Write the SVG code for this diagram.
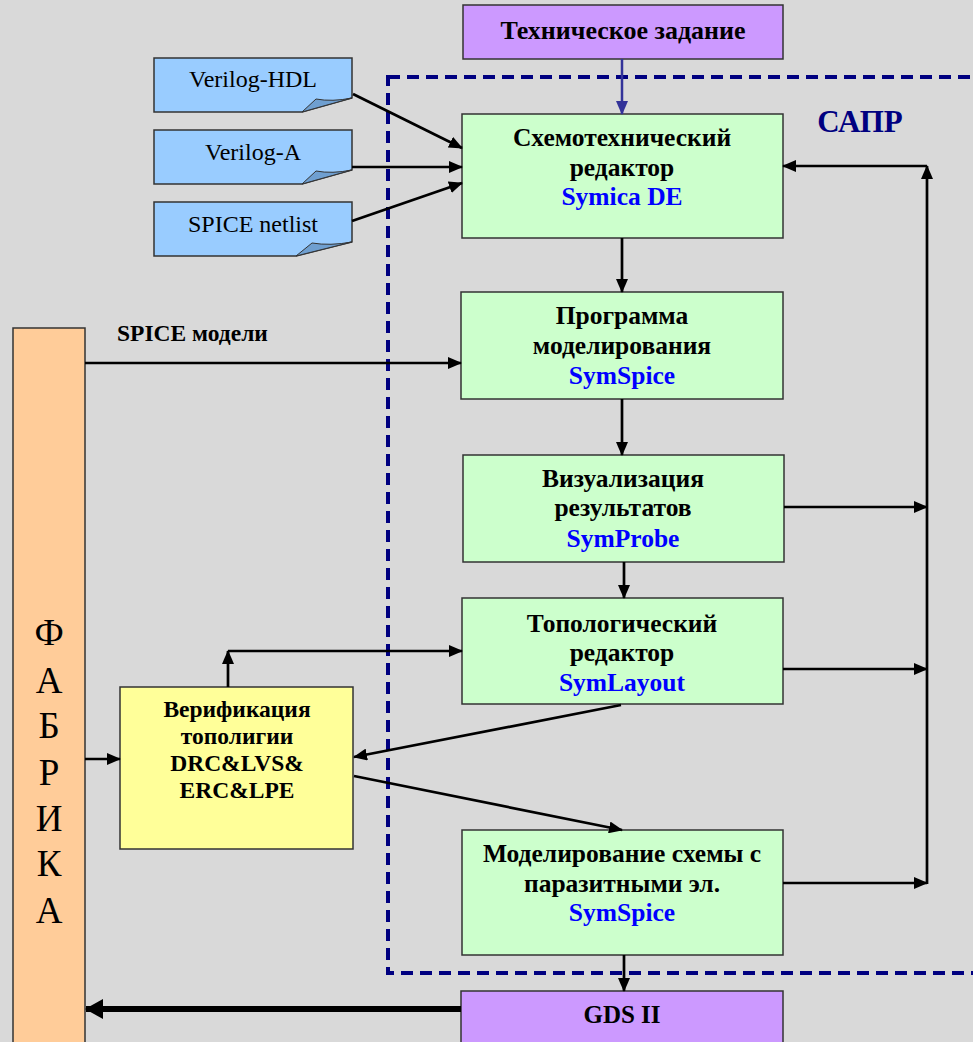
<svg xmlns="http://www.w3.org/2000/svg" width="973" height="1042" viewBox="0 0 973 1042">
<style>
.bg{fill:#d9d9d9}
.box{stroke:#333;stroke-width:1.5}
.green{fill:#ccffcc}
.purple{fill:#cc99ff}
.doc{fill:#99ccff}
.fold{fill:#6f9fd0;stroke:#333;stroke-width:1}
.t{font-family:"Liberation Serif","Times New Roman",serif;font-weight:bold;font-size:25.5px;fill:#000;text-anchor:middle}
.tb{fill:#0000ff}
.r{font-family:"Liberation Serif","Times New Roman",serif;font-size:24px;fill:#000;text-anchor:middle}
.c{fill:none;stroke:#000;stroke-width:2.7}
</style>
<defs>
<marker id="ah" markerUnits="userSpaceOnUse" markerWidth="14" markerHeight="12" refX="13" refY="6" orient="auto">
<path d="M0,0 L14,6 L0,12 z" fill="#000"/>
</marker>
<marker id="ahb" markerUnits="userSpaceOnUse" markerWidth="14" markerHeight="12" refX="13" refY="6" orient="auto">
<path d="M0,0 L14,6 L0,12 z" fill="#333399"/>
</marker>
<marker id="ahk" markerUnits="userSpaceOnUse" markerWidth="18" markerHeight="20" refX="17" refY="10" orient="auto">
<path d="M0,0 L18,10 L0,20 z" fill="#000"/>
</marker>
</defs>
<rect class="bg" x="0" y="0" width="973" height="1042"/>

<g id="sapr">
<rect x="388" y="77" width="600" height="896" fill="none" stroke="#000080" stroke-width="4" stroke-dasharray="12,7"/>
<text x="860" y="132" font-family="Liberation Serif, serif" font-weight="bold" font-size="31" fill="#000080" text-anchor="middle">САПР</text>
</g>

<g id="tz">
<rect class="box purple" x="463" y="5" width="320" height="54"/>
<text class="t" x="623" y="39" style="font-size:26px">Техническое задание</text>
</g>

<g id="vhdl">
<path class="doc" d="M154,58 H352 V98 L302,112 H154 Z" stroke="#333" stroke-width="1.5"/>
<path class="fold" d="M302,112 L316,99 Q332,102 352,98 Z"/>
<text class="r" x="253" y="87">Verilog-HDL</text>
</g>
<g id="va">
<path class="doc" d="M154,130 H352 V170 L302,184 H154 Z" stroke="#333" stroke-width="1.5"/>
<path class="fold" d="M302,184 L316,171 Q332,174 352,170 Z"/>
<text class="r" x="253" y="160">Verilog-A</text>
</g>
<g id="netlist">
<path class="doc" d="M154,202 H352 V242 L296,256 H154 Z" stroke="#333" stroke-width="1.5"/>
<path class="fold" d="M296,256 L312,243 Q330,246 352,242 Z"/>
<text class="r" x="253" y="232">SPICE netlist</text>
</g>

<g id="schem">
<rect class="box green" x="462" y="114" width="321" height="124"/>
<text class="t" x="622" y="146">Схемотехнический</text>
<text class="t" x="622" y="176">редактор</text>
<text class="t tb" x="622" y="205">Symica DE</text>
</g>

<g id="sim">
<rect class="box green" x="461" y="292" width="322" height="107"/>
<text class="t" x="622" y="324">Программа</text>
<text class="t" x="622" y="354">моделирования</text>
<text class="t tb" x="622" y="384">SymSpice</text>
</g>

<g id="vis">
<rect class="box green" x="463" y="455" width="321" height="107"/>
<text class="t" x="623" y="487">Визуализация</text>
<text class="t" x="623" y="516">результатов</text>
<text class="t tb" x="623" y="547">SymProbe</text>
</g>

<g id="layout">
<rect class="box green" x="462" y="598" width="321" height="106"/>
<text class="t" x="622" y="632">Топологический</text>
<text class="t" x="622" y="661">редактор</text>
<text class="t tb" x="622" y="691">SymLayout</text>
</g>

<g id="psim">
<rect class="box green" x="462" y="830" width="321" height="125"/>
<text class="t" x="622" y="862">Моделирование схемы с</text>
<text class="t" x="622" y="892">паразитными эл.</text>
<text class="t tb" x="622" y="921">SymSpice</text>
</g>

<g id="verif">
<rect class="box" fill="#ffff99" x="120" y="687" width="233" height="162"/>
<text class="t" x="237" y="717" style="font-size:23.5px">Верификация</text>
<text class="t" x="237" y="744" style="font-size:23.5px">тополигии</text>
<text class="t" x="237" y="771" style="font-size:23.5px">DRC&amp;LVS&amp;</text>
<text class="t" x="237" y="798" style="font-size:23.5px">ERC&amp;LPE</text>
</g>

<g id="fab">
<rect class="box" fill="#ffcc99" x="13" y="328" width="72" height="730"/>
<text class="r" x="49" y="645" style="font-size:37px">Ф</text>
<text class="r" x="49" y="693" style="font-size:37px">А</text>
<text class="r" x="49" y="738" style="font-size:37px">Б</text>
<text class="r" x="49" y="785" style="font-size:37px">Р</text>
<text class="r" x="49" y="831" style="font-size:37px">И</text>
<text class="r" x="49" y="876" style="font-size:37px">К</text>
<text class="r" x="49" y="923" style="font-size:37px">А</text>
</g>

<g id="gds">
<rect class="box purple" x="461" y="991" width="322" height="60"/>
<text class="t" x="622" y="1023" style="font-size:25px">GDS II</text>
</g>

<g id="connectors">
<line x1="622" y1="59" x2="622" y2="114" stroke="#333399" stroke-width="2.5" marker-end="url(#ahb)"/>
<line class="c" x1="353" y1="94" x2="462" y2="148" marker-end="url(#ah)"/>
<line class="c" x1="352" y1="167" x2="462" y2="167" marker-end="url(#ah)"/>
<line class="c" x1="352" y1="221" x2="462" y2="183" marker-end="url(#ah)"/>
<line class="c" x1="622" y1="238" x2="622" y2="292" marker-end="url(#ah)"/>
<line class="c" x1="622" y1="399" x2="622" y2="455" marker-end="url(#ah)"/>
<line class="c" x1="624" y1="562" x2="624" y2="598" marker-end="url(#ah)"/>
<line class="c" x1="85" y1="363" x2="461" y2="363" marker-end="url(#ah)"/>
<text x="117" y="341" font-family="Liberation Serif, serif" font-weight="bold" font-size="23.5" fill="#000">SPICE модели</text>
<line class="c" x1="85" y1="759" x2="120" y2="759" marker-end="url(#ah)"/>
<line class="c" x1="228" y1="687" x2="228" y2="651" marker-end="url(#ah)"/>
<line class="c" x1="228" y1="651" x2="462" y2="651" marker-end="url(#ah)"/>
<line class="c" x1="621" y1="705" x2="354" y2="757" marker-end="url(#ah)"/>
<line class="c" x1="354" y1="776" x2="622" y2="830" marker-end="url(#ah)"/>
<line class="c" x1="624" y1="955" x2="624" y2="991" marker-end="url(#ah)"/>
<line x1="461" y1="1009" x2="86" y2="1009" stroke="#000" stroke-width="6" marker-end="url(#ahk)"/>
<line class="c" x1="784" y1="507" x2="927" y2="507" marker-end="url(#ah)"/>
<line class="c" x1="783" y1="669" x2="927" y2="669" marker-end="url(#ah)"/>
<line class="c" x1="783" y1="883" x2="927" y2="883" marker-end="url(#ah)"/>
<line class="c" x1="927" y1="884" x2="927" y2="166" marker-end="url(#ah)"/>
<line class="c" x1="927" y1="166" x2="783" y2="166" marker-end="url(#ah)"/>
</g>
</svg>
